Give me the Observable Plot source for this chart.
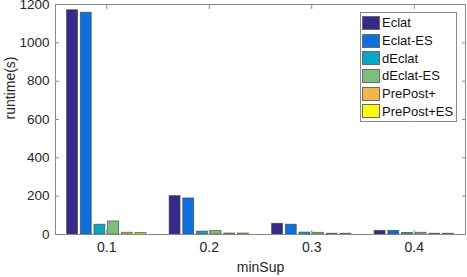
<!DOCTYPE html>
<html>
<head>
<meta charset="utf-8">
<script src="https://cdn.jsdelivr.net/npm/d3@7"></script>
<script src="https://cdn.jsdelivr.net/npm/@observablehq/plot@0.6"></script>
<style>
  body { margin: 0; background: #fff; }
  #wrap { position: relative; width: 467px; height: 277px; font-family: "Liberation Sans", Arial, sans-serif; }
  #legend { position: absolute; left: 360px; top: 12px; width: 95px; border: 1px solid #8a8a8a; background: #fff; padding: 1px 0; }
  .row { display: flex; align-items: center; height: 17.7px; font-size: 13px; color: #111; }
  .sw { width: 18px; height: 14px; margin: 0 2px 0 1px; box-sizing: border-box; border: 1px solid #6a6a6a; }
</style>
</head>
<body>
<div id="wrap"></div>
<script>
const minSup = [0.1, 0.2, 0.3, 0.4];
const seriesNames = ["Eclat", "Eclat-ES", "dEclat", "dEclat-ES", "PrePost+", "PrePost+ES"];
const colors = ["#352a87", "#0f6fdc", "#0ba6c4", "#7cc07b", "#f1b74a", "#f9fa0e"];
const eclat = [1170, 200, 56, 19];
const eclatES = [1157, 188, 51, 19];
const dEclat = [51, 15, 10, 8];
const dEclatES = [68, 18, 9, 9];
const prePost = [9, 5, 4, 4];
const prePostES = [8, 5, 4, 4];
const yTicks = [0, 200, 400, 600, 800, 1000, 1200];

const values = [eclat, eclatES, dEclat, dEclatES, prePost, prePostES];
const step = 0.1, groupFrac = 0.8, n = seriesNames.length;
const pitch = step * groupFrac / n, bw = pitch * 0.8;
const data = [];
values.forEach((vals, j) => vals.forEach((v, i) => {
  const c = minSup[i] + (j - (n - 1) / 2) * pitch;
  data.push({series: seriesNames[j], x1: c - bw / 2, x2: c + bw / 2, y: v});
}));

const axisColor = "#262626";
const chart = Plot.plot({
  width: 467, height: 277,
  marginLeft: 55, marginRight: 2, marginTop: 4, marginBottom: 43,
  style: {fontFamily: "'Liberation Sans', Arial, sans-serif", fontSize: "13.5px", color: axisColor, background: "#fff", overflow: "visible"},
  x: {domain: [0.05, 0.45]},
  y: {domain: [0, 1200]},
  color: {domain: seriesNames, range: colors},
  marks: [
    Plot.rectY(data, {x1: "x1", x2: "x2", y: "y", fill: "series", stroke: "#444", strokeWidth: 0.8, strokeOpacity: 0.8}),
    Plot.frame({stroke: "#8a8a8a", strokeWidth: 1}),
    Plot.axisX({anchor: "bottom", ticks: minSup, tickFormat: d => d.toFixed(1), tickSize: -4, tickPadding: 12, stroke: "#8a8a8a", fill: axisColor, label: null, fontSize: 14}),
    Plot.axisX({anchor: "top", ticks: minSup, tickSize: -4, tickFormat: () => "", stroke: "#8a8a8a", label: null}),
    Plot.axisY({anchor: "left", ticks: yTicks, tickFormat: d => String(d), tickSize: -4, tickPadding: 10, stroke: "#8a8a8a", fill: axisColor, label: null, fontSize: 13.5}),
    Plot.axisY({anchor: "right", ticks: yTicks, tickSize: -4, tickFormat: () => "", stroke: "#8a8a8a", label: null}),
    Plot.text(["minSup"], {frameAnchor: "bottom", dy: 37, text: d => d, fontSize: 14, fill: axisColor}),
    Plot.text(["runtime(s)"], {frameAnchor: "left", dx: -45, rotate: -90, text: d => d, fontSize: 14, fill: axisColor})
  ]
});
const wrap = document.getElementById("wrap");
wrap.appendChild(chart);

const legend = document.createElement("div");
legend.id = "legend";
seriesNames.forEach((name, j) => {
  const row = document.createElement("div");
  row.className = "row";
  const sw = document.createElement("span");
  sw.className = "sw";
  sw.style.background = colors[j];
  const t = document.createElement("span");
  t.textContent = name;
  row.appendChild(sw); row.appendChild(t);
  legend.appendChild(row);
});
wrap.appendChild(legend);
</script>
</body>
</html>
